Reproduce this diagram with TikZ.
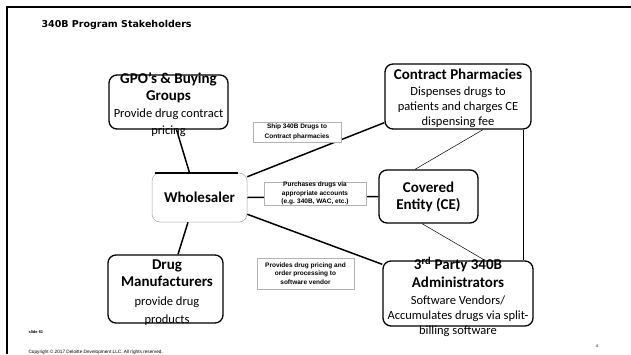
\documentclass[tikz,border=0pt]{standalone}
\usepackage{fontspec}
\setmainfont{Carlito}
\newfontfamily\arialfont{Liberation Sans}
\newfontfamily\verdanafont{DejaVu Sans}
\newcommand\boxhead{\fontsize{15}{17.5}\selectfont\bfseries}
\newcommand\boxbody{\fontsize{12.5}{15}\selectfont\mdseries}

\begin{document}
\begin{tikzpicture}[x=1pt, y=-1pt,
    stakeholder/.style={draw, line width=1.3pt, rounded corners=8pt, fill=white, inner sep=0pt},
    boxtext/.style={align=center, inner sep=0pt, font=\boxbody},
    note/.style={draw=gray!60, line width=0.5pt, fill=white, align=center, inner sep=0pt,
                 font=\arialfont\bfseries\fontsize{6.5}{8.5}\selectfont},
    link/.style={line width=1.5pt},
    thinlink/.style={line width=0.5pt}]
    \useasboundingbox (0,0) rectangle (631,354);
    % Slide frame and title
    \draw[line width=2.5pt] (7,354) -- (7,7) -- (631,7);
    \node[anchor=base west, font=\verdanafont\bfseries\fontsize{9.5}{11}\selectfont] (title) at (38,27) {340B Program Stakeholders};

    % Stakeholder boxes
    \node[stakeholder, minimum width=119pt, minimum height=54pt] (gpo) at (168.5,102) {};
    \node[stakeholder, minimum width=146pt, minimum height=65pt] (cp) at (458,96.5) {};
    \node[stakeholder, draw=gray!70, line width=0.5pt, minimum width=95pt, minimum height=49pt] (whole) at (199.5,197.5) {};
    \node[stakeholder, minimum width=99pt, minimum height=53pt] (ce) at (428.5,196.5) {};
    \node[stakeholder, minimum width=150pt, minimum height=65pt] (tp) at (458,293.5) {};
    \node[stakeholder, minimum width=115pt, minimum height=68pt] (drug) at (165.5,289) {};
    \draw[link] ([xshift=3pt]whole.north west) -- ([xshift=-9pt]whole.north east);

    % Connectors
    \draw[link] ([xshift=8pt]gpo.south) -- ([xshift=-10pt]whole.north);
    \draw[link] ([xshift=-11.5pt]whole.south) -- ([xshift=12.5pt]drug.north);
    \draw[link] ([yshift=-4pt]whole.north east) -- ([yshift=7pt]cp.south west);
    \draw[link] (whole.east) -- (ce.west);
    \draw[link] ([yshift=8pt]whole.south east) -- ([yshift=-4pt]tp.north west);
    \draw[thinlink] ([xshift=25pt]cp.south) -- ([xshift=-13.5pt]ce.north);
    \draw[thinlink] ([xshift=-6.5pt]ce.south) -- ([xshift=27pt]tp.north);
    \draw[thinlink] ([xshift=-8pt]cp.south east) -- ([xshift=-10pt]tp.north east);

    % Box texts
    \node[boxtext] (gpo text) at (168.5,104.5) {\boxhead GPO’s \& Buying\\[2pt]\boxhead Groups\\[2pt]Provide drug contract\\[2pt]pricing};
    \node[boxtext] (cp text) at (458,98.5) {\boxhead Contract Pharmacies\\[1pt]Dispenses drugs to\\patients and charges CE\\dispensing fee};
    \node[boxtext] (whole text) at (199.5,197.5) {\boxhead Wholesaler};
    \node[boxtext] (ce text) at (428.5,196.5) {\boxhead Covered\\[2pt]\boxhead Entity (CE)};
    \node[boxtext] (tp text) at (458,296.5) {\boxhead 3\textsuperscript{rd} Party 340B\\[3pt]\boxhead Administrators\\[2pt]Software Vendors/\\Accumulates drugs via split-\\billing software};
    \node[boxtext] (drug text) at (167,293) {\boxhead Drug\\[2pt]\boxhead Manufacturers\\[4pt]provide drug\\[3pt]products};

    % Flow notes
    \node[note, minimum width=88pt, minimum height=20pt] (ship) at (297,132) {Ship 340B Drugs to\\[1pt]Contract pharmacies};
    \node[note, minimum width=102pt, minimum height=21pt] (purch) at (315,193.5) {Purchases drugs via\\appropriate accounts\\(e.g. 340B, WAC, etc.)};
    \node[note, minimum width=97pt, minimum height=31pt] (prov) at (305.5,273.5) {Provides drug pricing and\\order processing to\\software vendor};

    % Footer
    \node[anchor=base west, font=\arialfont\bfseries\fontsize{4}{5}\selectfont] (slide) at (25,333.5) {slide 61};
    \node[anchor=base west, font=\arialfont\fontsize{4.7}{5}\selectfont] (copy) at (25,353.5) {Copyright © 2017 Deloitte Development LLC. All rights reserved.};
    \node[font=\arialfont\fontsize{4}{5}\selectfont] (page) at (597,346) {4};
\end{tikzpicture}
\end{document}
